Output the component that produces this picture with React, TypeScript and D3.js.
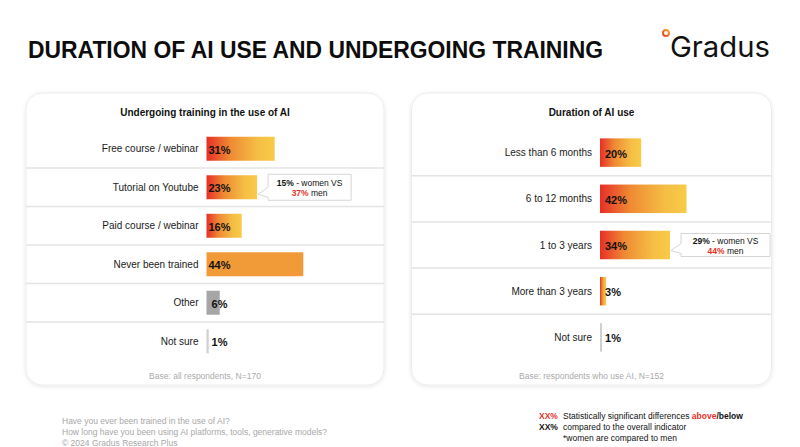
import * as d3 from 'd3';

const W = 800;
const H = 447;

// left panel: training
const trainingLabels = [
  'Free course / webinar',
  'Tutorial on Youtube',
  'Paid course / webinar',
  'Never been trained',
  'Other',
  'Not sure',
];
const trainingValues = [31, 23, 16, 44, 6, 1];

// right panel: duration
const durationLabels = [
  'Less than 6 months',
  '6 to 12 months',
  '1 to 3 years',
  'More than 3 years',
  'Not sure',
];
const durationValues = [20, 42, 34, 3, 1];

// callouts: women vs men
const trainingCallout = { label: 'Tutorial on Youtube', women: 15, men: 37 };
const durationCallout = { label: '1 to 3 years', women: 29, men: 44 };

const footerLines = [
  'Have you ever been trained in the use of AI?',
  'How long have you been using AI platforms, tools, generative models?',
  '© 2024 Gradus Research Plus',
];

const FONT = "'Liberation Sans', Arial, Helvetica, sans-serif";
const RED = '#e8302a';

// fill style for left panel bars (by label)
const LEFT_FILL: Record<string, string> = {
  'Never been trained': '#f19a38',
  Other: '#a6a6a6',
  'Not sure': '#cfcfcf',
};
const RIGHT_FILL: Record<string, string> = {
  'Not sure': '#cfcfcf',
};

type PanelProps = {
  x: number;
  y: number;
  w: number;
  h: number;
  title: string;
  base: string;
  labels: string[];
  values: number[];
  fills: Record<string, string>;
  barX: number;
  pxPer100: number;
  rowTop: number;
  rowBottom: number;
  barH: number;
  valueSize: number;
  valueOffset: (v: number) => number;
  callout: { label: string; women: number; men: number };
  calloutW: number;
  calloutH: number;
  id: string;
};

const Panel = (p: PanelProps) => {
  const yScale = d3.scaleBand<string>().domain(p.labels).range([p.rowTop, p.rowBottom]).padding(0);
  const xScale = d3.scaleLinear().domain([0, 100]).range([p.barX, p.barX + p.pxPer100]);
  const step = yScale.step();
  const cx = p.x + p.w / 2;

  const rows = p.labels.map((label, i) => {
    const v = p.values[i];
    const y0 = yScale(label) ?? 0;
    const cy = y0 + step / 2;
    const fill = p.fills[label] ?? `url(#grad-${p.id})`;
    return (
      <g key={label}>
        {i > 0 && (
          <line x1={p.x} x2={p.x + p.w} y1={y0} y2={y0} stroke="#e4e4e4" strokeWidth={1.5} />
        )}
        <text
          x={p.barX - 8}
          y={cy}
          textAnchor="end"
          dominantBaseline="central"
          fontSize={10}
          fill="#1a1a1a"
        >
          {label}
        </text>
        <rect
          x={xScale(0)}
          y={cy - p.barH / 2}
          width={Math.max(xScale(v) - xScale(0), 2)}
          height={p.barH}
          fill={fill}
        />
        <text
          x={xScale(0) + p.valueOffset(v)}
          y={cy + 1}
          dominantBaseline="central"
          fontSize={p.valueSize}
          fontWeight="bold"
          fill="#111"
        >
          {v}%
        </text>
      </g>
    );
  });

  // callout
  const ci = p.labels.indexOf(p.callout.label);
  const cv = p.values[ci];
  const ccy = (yScale(p.callout.label) ?? 0) + step / 2;
  const bx = xScale(cv) + 11;
  const by = ccy - p.calloutH / 2;
  const bw = p.calloutW;
  const bh = p.calloutH;
  const tipX = bx - 10;
  const tipY = by + bh - 6;
  const calloutPath = [
    `M${bx},${by}`,
    `H${bx + bw}`,
    `V${by + bh}`,
    `H${bx}`,
    `V${by + bh - 3}`,
    `L${tipX},${tipY}`,
    `L${bx},${by + bh - 13}`,
    'Z',
  ].join(' ');

  return (
    <g>
      <rect
        x={p.x}
        y={p.y}
        width={p.w}
        height={p.h}
        rx={16}
        fill="#fff"
        stroke="#ececec"
        strokeWidth={1}
        filter="url(#shadow)"
      />
      <text x={cx} y={p.y + 19} textAnchor="middle" dominantBaseline="central" fontSize={10} fontWeight="bold" fill="#111">
        {p.title}
      </text>
      {rows}
      <path d={calloutPath} fill="#fff" stroke="#d6d6d6" strokeWidth={1} />
      <text x={bx + bw / 2} y={by + bh / 2 - 4.5} textAnchor="middle" dominantBaseline="central" fontSize={8.5} fill="#111">
        <tspan fontWeight="bold">{p.callout.women}%</tspan>
        <tspan> - women VS</tspan>
      </text>
      <text x={bx + bw / 2} y={by + bh / 2 + 6} textAnchor="middle" dominantBaseline="central" fontSize={8.5} fill="#111">
        <tspan fontWeight="bold" fill={RED}>{p.callout.men}%</tspan>
        <tspan> men</tspan>
      </text>
      <text x={cx} y={p.y + p.h - 9} textAnchor="middle" dominantBaseline="central" fontSize={8.5} fill="#aaaaaa">
        {p.base}
      </text>
    </g>
  );
};

const App = () => {
  return (
    <svg
      width={W}
      height={H}
      style={{ position: 'absolute', left: 0, top: 0, fontFamily: FONT }}
    >
      <defs>
        {['left', 'right'].map((id) => (
          <linearGradient key={id} id={`grad-${id}`} x1="0" x2="1" y1="0" y2="0">
            <stop offset="0%" stopColor="#e62f27" />
            <stop offset="35%" stopColor="#ef8a33" />
            <stop offset="75%" stopColor="#f5be44" />
            <stop offset="100%" stopColor="#f8cb48" />
          </linearGradient>
        ))}
        <linearGradient id="ring" x1="0" x2="1" y1="1" y2="0">
          <stop offset="0%" stopColor="#ee3a24" />
          <stop offset="100%" stopColor="#f7a928" />
        </linearGradient>
        <filter id="shadow" x="-5%" y="-5%" width="110%" height="110%">
          <feDropShadow dx="0" dy="1" stdDeviation="2" floodColor="#000" floodOpacity="0.1" />
        </filter>
      </defs>
      <rect width={W} height={H} fill="#fff" />

      <text
        x={28}
        y={58}
        fontSize={23}
        fontWeight="bold"
        fill="#0d0d0d"
        textLength={575}
        lengthAdjust="spacingAndGlyphs"
      >
        DURATION OF AI USE AND UNDERGOING TRAINING
      </text>

      {/* logo */}
      <circle cx={666} cy={33} r={3} fill="none" stroke="url(#ring)" strokeWidth={2} />
      <text
        x={670}
        y={57}
        fontSize={28}
        fontFamily="Inter, 'Noto Sans', sans-serif"
        fill="#111"
        textLength={100}
        lengthAdjust="spacingAndGlyphs"
      >
        Gradus
      </text>

      <Panel
        id="left"
        x={26}
        y={93}
        w={358}
        h={292}
        title="Undergoing training in the use of AI"
        base="Base: all respondents, N=170"
        labels={trainingLabels}
        values={trainingValues}
        fills={LEFT_FILL}
        barX={206.5}
        pxPer100={220}
        rowTop={129.5}
        rowBottom={360.5}
        barH={24}
        valueSize={11}
        valueOffset={(v) => (v >= 10 ? 2 : 5)}
        callout={trainingCallout}
        calloutW={83}
        calloutH={26}
      />
      <Panel
        id="right"
        x={411.5}
        y={93}
        w={360}
        h={292}
        title="Duration of AI use"
        base="Base: respondents who use AI, N=152"
        labels={durationLabels}
        values={durationValues}
        fills={RIGHT_FILL}
        barX={600}
        pxPer100={206}
        rowTop={129.5}
        rowBottom={360.5}
        barH={28.5}
        valueSize={11}
        valueOffset={() => 5}
        callout={durationCallout}
        calloutW={89}
        calloutH={23}
      />

      {/* footer */}
      {footerLines.map((t, i) => (
        <text key={i} x={62} y={424 + i * 11} fontSize={8.5} fill="#a8a8a8">
          {t}
        </text>
      ))}

      {/* legend */}
      <text x={539} y={419} fontSize={8.5} fontWeight="bold" fill={RED}>XX%</text>
      <text x={539} y={430} fontSize={8.5} fontWeight="bold" fill="#111">XX%</text>
      <text x={563} y={419} fontSize={8.5} fill="#111">
        <tspan>Statistically significant differences </tspan>
        <tspan fill={RED} fontWeight="bold">above</tspan>
        <tspan fontWeight="bold">/below</tspan>
      </text>
      <text x={563} y={430} fontSize={8.5} fill="#111">compared to the overall indicator</text>
      <text x={563} y={441} fontSize={8.5} fill="#111">*women are compared to men</text>
    </svg>
  );
};

export default App;
